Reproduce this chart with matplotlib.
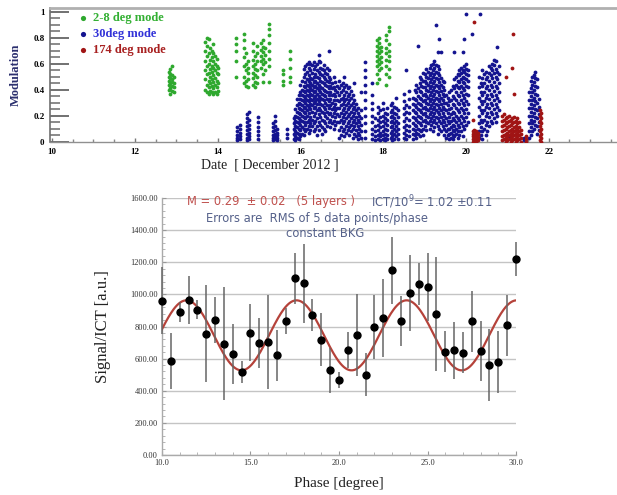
import matplotlib
matplotlib.use("Agg")
import matplotlib.pyplot as plt
import numpy as np
from matplotlib.ticker import MultipleLocator, FormatStrFormatter

# ---------------- Top panel data: modulation vs date (columns of points) ----------------
green_dates = [12.82, 12.86, 12.90, 12.94,
               13.70, 13.74, 13.78, 13.82, 13.86, 13.90, 13.94, 13.98, 14.02,
               14.45, 14.63, 14.68, 14.74, 14.85, 14.90, 14.96, 15.05, 15.10, 15.15, 15.24,
               15.58, 15.76,
               17.86, 17.90, 17.94, 18.08, 18.13]
green_mods = [[0.40, 0.44, 0.47, 0.50, 0.54],
              [0.37, 0.41, 0.45, 0.49, 0.52, 0.56],
              [0.39, 0.43, 0.46, 0.48, 0.51, 0.58],
              [0.38, 0.42, 0.45, 0.50],
              [0.40, 0.48, 0.55, 0.62, 0.70, 0.77],
              [0.38, 0.44, 0.52, 0.58, 0.66, 0.74, 0.80],
              [0.37, 0.42, 0.47, 0.53, 0.60, 0.68, 0.79],
              [0.39, 0.45, 0.50, 0.56, 0.63, 0.72],
              [0.38, 0.43, 0.48, 0.54, 0.58, 0.65, 0.70],
              [0.37, 0.41, 0.46, 0.51, 0.57, 0.62, 0.68, 0.75],
              [0.38, 0.44, 0.49, 0.55, 0.60, 0.66],
              [0.37, 0.42, 0.47, 0.53, 0.58, 0.64],
              [0.39, 0.45, 0.52, 0.57],
              [0.50, 0.62, 0.70, 0.75, 0.80],
              [0.45, 0.50, 0.58, 0.65, 0.72, 0.78, 0.83],
              [0.43, 0.47, 0.55, 0.60, 0.68],
              [0.42, 0.48, 0.53, 0.57, 0.62],
              [0.44, 0.49, 0.53, 0.58, 0.63, 0.70, 0.76],
              [0.42, 0.46, 0.51, 0.56, 0.60, 0.66],
              [0.45, 0.50, 0.55, 0.62, 0.68, 0.74],
              [0.57, 0.62, 0.66, 0.71, 0.76],
              [0.46, 0.52, 0.60, 0.64, 0.69, 0.73, 0.78],
              [0.55, 0.61, 0.67, 0.72],
              [0.46, 0.58, 0.64, 0.70, 0.76, 0.82, 0.87, 0.91],
              [0.44, 0.47, 0.52, 0.55],
              [0.46, 0.50, 0.57, 0.64, 0.70],
              [0.45, 0.52, 0.58, 0.62, 0.66, 0.70, 0.74, 0.78],
              [0.48, 0.55, 0.60, 0.64, 0.68, 0.72, 0.76, 0.80],
              [0.57, 0.61, 0.65, 0.70, 0.73],
              [0.44, 0.52, 0.58, 0.63, 0.68, 0.72, 0.78, 0.82],
              [0.50, 0.56, 0.62, 0.66, 0.70, 0.75, 0.85, 0.88]]

blue_dates = [14.48, 14.53, 14.70, 14.75, 14.98, 15.34, 15.39, 15.44, 15.68,
              15.84, 15.88, 15.92, 15.96, 16.00, 16.04, 16.08, 16.12, 16.16, 16.20,
              16.24, 16.28, 16.32, 16.36, 16.40, 16.44, 16.48, 16.52, 16.56, 16.60,
              16.64, 16.68, 16.72, 16.76, 16.80, 16.84, 16.88,
              16.94, 16.98, 17.02, 17.06, 17.10, 17.14, 17.18, 17.22, 17.26, 17.30,
              17.34, 17.38, 17.42, 17.47, 17.57, 17.74, 17.80,
              17.88, 17.93, 18.00, 18.05, 18.10, 18.18, 18.22, 18.26, 18.32, 18.36,
              18.50, 18.55, 18.62, 18.72, 18.76, 18.80, 18.84, 18.88, 18.92, 18.96,
              19.00, 19.04, 19.08, 19.12, 19.16, 19.20, 19.24, 19.28, 19.32, 19.36,
              19.40, 19.44, 19.48, 19.52, 19.56, 19.60, 19.64, 19.68, 19.72, 19.76,
              19.80, 19.84, 19.88, 19.92, 19.96, 20.00, 20.04, 20.14, 20.34,
              20.32, 20.36, 20.40, 20.44, 20.48, 20.52, 20.56, 20.60, 20.64, 20.68,
              20.72, 20.76, 20.80, 20.95, 21.05, 21.40,
              21.52, 21.56, 21.60, 21.64, 21.68, 21.72, 21.76]
blue_mods = [[0.01, 0.03, 0.05, 0.08, 0.11],
             [0.02, 0.04, 0.07, 0.10, 0.13],
             [0.01, 0.03, 0.06, 0.09, 0.12, 0.15, 0.18, 0.21],
             [0.02, 0.04, 0.07, 0.10, 0.13, 0.17, 0.23],
             [0.02, 0.05, 0.08, 0.11, 0.15, 0.19],
             [0.01, 0.03, 0.05, 0.08, 0.11, 0.14],
             [0.02, 0.04, 0.06, 0.09, 0.12, 0.16, 0.20],
             [0.01, 0.03, 0.05, 0.07, 0.10],
             [0.03, 0.06, 0.10],
             [0.02, 0.06, 0.10, 0.14, 0.18],
             [0.01, 0.04, 0.08, 0.12, 0.16, 0.20, 0.25],
             [0.03, 0.07, 0.11, 0.15, 0.19, 0.23, 0.28, 0.33],
             [0.02, 0.06, 0.10, 0.14, 0.18, 0.22, 0.26, 0.30, 0.36],
             [0.04, 0.09, 0.13, 0.17, 0.21, 0.25, 0.29, 0.33, 0.38, 0.44],
             [0.06, 0.11, 0.16, 0.20, 0.24, 0.28, 0.32, 0.36, 0.40, 0.47],
             [0.05, 0.10, 0.15, 0.19, 0.23, 0.27, 0.31, 0.35, 0.39, 0.43, 0.50, 0.56],
             [0.08, 0.13, 0.18, 0.22, 0.26, 0.30, 0.34, 0.38, 0.42, 0.46, 0.52, 0.58],
             [0.10, 0.15, 0.20, 0.24, 0.28, 0.32, 0.36, 0.40, 0.44, 0.48, 0.54, 0.60],
             [0.07, 0.12, 0.17, 0.22, 0.27, 0.31, 0.35, 0.39, 0.43, 0.47, 0.51, 0.57, 0.61],
             [0.09, 0.14, 0.19, 0.25, 0.29, 0.33, 0.37, 0.41, 0.45, 0.49, 0.55, 0.60],
             [0.12, 0.17, 0.23, 0.28, 0.32, 0.36, 0.40, 0.44, 0.48, 0.53, 0.59],
             [0.08, 0.14, 0.20, 0.26, 0.30, 0.34, 0.38, 0.42, 0.46, 0.50, 0.56, 0.61],
             [0.10, 0.16, 0.22, 0.27, 0.31, 0.35, 0.39, 0.43, 0.47, 0.52, 0.58],
             [0.05, 0.12, 0.18, 0.24, 0.29, 0.33, 0.37, 0.41, 0.45, 0.50, 0.55, 0.60],
             [0.09, 0.15, 0.21, 0.26, 0.31, 0.35, 0.40, 0.44, 0.49, 0.54, 0.62, 0.67],
             [0.13, 0.19, 0.24, 0.29, 0.34, 0.38, 0.42, 0.47, 0.52, 0.57, 0.61],
             [0.06, 0.11, 0.17, 0.23, 0.28, 0.33, 0.37, 0.41, 0.46, 0.51, 0.56],
             [0.10, 0.16, 0.22, 0.27, 0.32, 0.36, 0.40, 0.45, 0.50, 0.55, 0.59],
             [0.08, 0.14, 0.20, 0.25, 0.30, 0.35, 0.39, 0.44, 0.48, 0.53],
             [0.12, 0.18, 0.23, 0.28, 0.33, 0.38, 0.43, 0.47, 0.52, 0.57],
             [0.15, 0.21, 0.26, 0.31, 0.36, 0.41, 0.46, 0.50, 0.55, 0.70],
             [0.11, 0.17, 0.22, 0.28, 0.33, 0.38, 0.43, 0.48],
             [0.14, 0.20, 0.25, 0.30, 0.36, 0.41, 0.45],
             [0.10, 0.16, 0.22, 0.27, 0.32, 0.37, 0.42, 0.50],
             [0.13, 0.19, 0.24, 0.29, 0.35, 0.40, 0.46],
             [0.15, 0.21, 0.26, 0.32, 0.38, 0.43],
             [0.03, 0.09, 0.15, 0.20, 0.26, 0.31, 0.36, 0.41, 0.47],
             [0.05, 0.11, 0.17, 0.22, 0.28, 0.33, 0.38, 0.44],
             [0.08, 0.14, 0.19, 0.24, 0.29, 0.34, 0.40, 0.45],
             [0.04, 0.10, 0.16, 0.21, 0.26, 0.31, 0.36, 0.42, 0.50],
             [0.07, 0.12, 0.18, 0.23, 0.28, 0.33, 0.38, 0.44],
             [0.09, 0.14, 0.20, 0.25, 0.30, 0.35, 0.41],
             [0.05, 0.11, 0.16, 0.21, 0.27, 0.32, 0.37, 0.42],
             [0.08, 0.13, 0.18, 0.23, 0.28, 0.34, 0.39],
             [0.03, 0.10, 0.15, 0.20, 0.25, 0.30, 0.36],
             [0.06, 0.12, 0.17, 0.22, 0.27, 0.32, 0.45],
             [0.04, 0.09, 0.14, 0.19, 0.24, 0.29],
             [0.02, 0.07, 0.12, 0.17, 0.22, 0.26],
             [0.05, 0.10, 0.15, 0.20],
             [0.03, 0.08, 0.13, 0.18, 0.24, 0.38],
             [0.03, 0.08, 0.14, 0.20, 0.26, 0.32, 0.38, 0.44, 0.50, 0.55, 0.61],
             [0.02, 0.06, 0.10, 0.15, 0.20, 0.25, 0.30, 0.36, 0.45],
             [0.01, 0.04, 0.08, 0.12, 0.18],
             [0.02, 0.05, 0.09, 0.13, 0.17, 0.22, 0.27],
             [0.01, 0.04, 0.07, 0.11, 0.15, 0.19, 0.24],
             [0.02, 0.05, 0.08, 0.12, 0.16, 0.20, 0.25, 0.30],
             [0.01, 0.03, 0.06, 0.10, 0.14, 0.18, 0.22],
             [0.02, 0.05, 0.09, 0.13, 0.17, 0.21, 0.26],
             [0.03, 0.07, 0.11, 0.15, 0.19, 0.23, 0.28],
             [0.01, 0.04, 0.08, 0.12, 0.16, 0.20, 0.24, 0.30],
             [0.02, 0.06, 0.10, 0.14, 0.18, 0.22, 0.27],
             [0.04, 0.08, 0.12, 0.16, 0.21, 0.26, 0.34],
             [0.02, 0.06, 0.10, 0.14, 0.19, 0.24],
             [0.03, 0.07, 0.11, 0.16, 0.21, 0.26, 0.31, 0.37],
             [0.02, 0.05, 0.09, 0.13, 0.18, 0.23, 0.28, 0.55],
             [0.04, 0.08, 0.12, 0.17, 0.22, 0.27, 0.33, 0.39],
             [0.02, 0.06, 0.10, 0.14, 0.19, 0.24, 0.29, 0.34],
             [0.05, 0.09, 0.13, 0.18, 0.23, 0.28, 0.33, 0.40],
             [0.03, 0.07, 0.12, 0.17, 0.22, 0.27, 0.32, 0.38, 0.44],
             [0.06, 0.10, 0.15, 0.20, 0.25, 0.30, 0.35, 0.41, 0.74],
             [0.04, 0.09, 0.14, 0.19, 0.24, 0.29, 0.34, 0.39, 0.45, 0.50],
             [0.08, 0.13, 0.18, 0.23, 0.28, 0.33, 0.38, 0.43, 0.48],
             [0.05, 0.10, 0.16, 0.21, 0.26, 0.31, 0.36, 0.42, 0.47, 0.53],
             [0.12, 0.17, 0.22, 0.27, 0.32, 0.37, 0.42, 0.47, 0.52],
             [0.09, 0.15, 0.20, 0.25, 0.30, 0.35, 0.40, 0.45, 0.50, 0.56],
             [0.14, 0.19, 0.24, 0.29, 0.34, 0.39, 0.44, 0.49, 0.54],
             [0.10, 0.16, 0.21, 0.26, 0.31, 0.36, 0.41, 0.46, 0.51, 0.57],
             [0.13, 0.18, 0.23, 0.28, 0.33, 0.38, 0.43, 0.48, 0.53, 0.59],
             [0.08, 0.15, 0.20, 0.25, 0.30, 0.35, 0.40, 0.45, 0.50, 0.55, 0.60],
             [0.11, 0.17, 0.22, 0.27, 0.32, 0.37, 0.42, 0.47, 0.52, 0.57, 0.62],
             [0.14, 0.19, 0.24, 0.29, 0.34, 0.39, 0.44, 0.49, 0.54, 0.59, 0.90],
             [0.06, 0.12, 0.18, 0.23, 0.28, 0.33, 0.38, 0.43, 0.48, 0.53, 0.58, 0.69],
             [0.10, 0.16, 0.21, 0.26, 0.31, 0.36, 0.41, 0.46, 0.51, 0.56, 0.79],
             [0.08, 0.14, 0.19, 0.24, 0.29, 0.34, 0.39, 0.44, 0.49, 0.69],
             [0.12, 0.17, 0.22, 0.27, 0.32, 0.37, 0.42, 0.47],
             [0.05, 0.10, 0.15, 0.20, 0.25, 0.30, 0.35, 0.40, 0.46],
             [0.03, 0.08, 0.13, 0.18, 0.24, 0.30, 0.36],
             [0.05, 0.10, 0.16, 0.22, 0.28, 0.34],
             [0.02, 0.06, 0.10, 0.14, 0.19, 0.25, 0.31, 0.38],
             [0.03, 0.07, 0.11, 0.16, 0.21, 0.26, 0.32, 0.40],
             [0.02, 0.05, 0.09, 0.13, 0.18, 0.23, 0.29, 0.35, 0.43],
             [0.04, 0.08, 0.12, 0.17, 0.22, 0.28, 0.34, 0.41, 0.48, 0.69],
             [0.06, 0.10, 0.15, 0.20, 0.26, 0.32, 0.38, 0.44, 0.50],
             [0.03, 0.08, 0.13, 0.18, 0.24, 0.30, 0.36, 0.42, 0.47, 0.52],
             [0.05, 0.11, 0.17, 0.23, 0.29, 0.35, 0.41, 0.46, 0.51, 0.55],
             [0.08, 0.14, 0.20, 0.26, 0.32, 0.38, 0.43, 0.48, 0.53, 0.57],
             [0.04, 0.12, 0.18, 0.24, 0.30, 0.36, 0.41, 0.46, 0.50, 0.55, 0.69],
             [0.10, 0.16, 0.22, 0.28, 0.34, 0.40, 0.45, 0.49, 0.54, 0.58, 0.79],
             [0.13, 0.19, 0.25, 0.31, 0.37, 0.43, 0.48, 0.52, 0.56, 0.60, 0.98],
             [0.15, 0.22, 0.29, 0.36, 0.42, 0.47, 0.51, 0.55],
             [0.83],
             [0.98],
             [0.03, 0.08, 0.14, 0.20, 0.27, 0.34, 0.42, 0.50],
             [0.05, 0.11, 0.17, 0.24, 0.31, 0.38, 0.45],
             [0.02, 0.08, 0.15, 0.22, 0.29, 0.36, 0.43, 0.49, 0.55],
             [0.10, 0.17, 0.24, 0.31, 0.38, 0.45, 0.52],
             [0.05, 0.13, 0.20, 0.27, 0.34, 0.41, 0.48, 0.54],
             [0.08, 0.15, 0.22, 0.29, 0.36, 0.43, 0.50],
             [0.12, 0.19, 0.26, 0.33, 0.40, 0.47, 0.53, 0.58],
             [0.16, 0.23, 0.30, 0.37, 0.44, 0.51, 0.57],
             [0.14, 0.21, 0.28, 0.35, 0.42, 0.49, 0.55, 0.60],
             [0.18, 0.25, 0.32, 0.39, 0.46, 0.53, 0.59, 0.63],
             [0.15, 0.22, 0.29, 0.36, 0.43, 0.50, 0.56, 0.62],
             [0.20, 0.27, 0.34, 0.41, 0.48, 0.54, 0.73],
             [0.24, 0.31, 0.38, 0.45, 0.52, 0.58],
             [0.02],
             [0.04],
             [0.01, 0.03],
             [0.03, 0.08, 0.14, 0.20, 0.26, 0.32, 0.38],
             [0.05, 0.11, 0.17, 0.23, 0.29, 0.35, 0.41, 0.47],
             [0.08, 0.14, 0.20, 0.26, 0.32, 0.38, 0.44, 0.50],
             [0.10, 0.16, 0.22, 0.28, 0.34, 0.40, 0.46, 0.51],
             [0.13, 0.19, 0.25, 0.31, 0.37, 0.43, 0.49, 0.54],
             [0.06, 0.12, 0.18, 0.24, 0.30, 0.36, 0.42, 0.48],
             [0.09, 0.15, 0.21, 0.27, 0.33]]

red_dates = [20.16, 20.20, 20.24, 20.28, 20.18,
             20.88, 20.92, 20.96, 21.00, 21.04, 21.08, 21.12, 21.14, 21.16,
             21.20, 21.24, 21.28, 21.32, 21.46, 21.78, 21.82]
red_mods = [[0.00, 0.02, 0.04, 0.06, 0.08],
            [0.01, 0.03, 0.05, 0.07, 0.09, 0.92],
            [0.00, 0.02, 0.04, 0.06, 0.08],
            [0.01, 0.03, 0.05, 0.07],
            [0.17],
            [0.01, 0.04, 0.08, 0.12, 0.16, 0.20],
            [0.02, 0.05, 0.09, 0.13, 0.17, 0.21],
            [0.00, 0.03, 0.06, 0.10, 0.14, 0.18, 0.50],
            [0.01, 0.04, 0.07, 0.11, 0.15, 0.19],
            [0.02, 0.05, 0.08, 0.12, 0.16, 0.20],
            [0.00, 0.03, 0.06, 0.09, 0.13, 0.17],
            [0.01, 0.04, 0.07, 0.10, 0.14, 0.18, 0.57],
            [0.83],
            [0.02, 0.05, 0.08, 0.11, 0.15, 0.19, 0.37],
            [0.00, 0.03, 0.06, 0.09, 0.12, 0.16],
            [0.01, 0.04, 0.07, 0.10, 0.14, 0.18],
            [0.02, 0.05, 0.08, 0.11, 0.15],
            [0.00, 0.03, 0.06, 0.09],
            [0.00, 0.02, 0.04],
            [0.01, 0.04, 0.08, 0.12, 0.16, 0.20, 0.24],
            [0.00, 0.03, 0.06, 0.10, 0.14, 0.18, 0.22]]

series_labels = ["2-8 deg mode", "30deg mode", "174 deg mode"]

# ---------------- Bottom panel data: signal/ICT vs phase ----------------
phase = [10.0, 10.5, 11.0, 11.5, 12.0, 12.5, 13.0, 13.5, 14.0, 14.5,
         15.0, 15.5, 16.0, 16.5, 17.0, 17.5, 18.0, 18.5, 19.0, 19.5,
         20.0, 20.5, 21.0, 21.5, 22.0, 22.5, 23.0, 23.5, 24.0, 24.5,
         25.0, 25.5, 26.0, 26.5, 27.0, 27.5, 28.0, 28.5, 29.0, 29.5, 30.0]
signal = [961, 585, 890, 966, 904, 756, 842, 692, 630, 519,
          762, 698, 704, 620, 836, 1100, 1069, 871, 717, 529,
          467, 653, 747, 500, 799, 852, 1149, 834, 1007, 1063,
          1044, 879, 642, 651, 638, 832, 649, 560, 579, 807, 1219]
signal_err = [210, 176, 60, 150, 60, 303, 142, 352, 186, 68,
              177, 156, 293, 160, 80, 160, 245, 98, 165, 140,
              48, 110, 253, 135, 200, 243, 210, 155, 238, 130,
              212, 355, 127, 178, 126, 190, 188, 222, 192, 190, 105]
# fitted sinusoid parameters
fit_mean = 745.0
fit_amp = 218.0
fit_period = 6.22
fit_peak = 17.6

# ---------------- Figure ----------------
W, H = 617, 495
fig = plt.figure(figsize=(W / 100, H / 100), dpi=100)

serif = ["Liberation Serif", "DejaVu Serif"]

# ---- top axes ----
ax1 = fig.add_axes([50 / W, 1 - 142 / H, 1 - 50 / W, 134 / H])
colors = ["#2ea82e", "#141490", "#a01414"]
for dates, mods, col in [(green_dates, green_mods, colors[0]),
                         (blue_dates, blue_mods, colors[1]),
                         (red_dates, red_mods, colors[2])]:
    xs, ys = [], []
    for d, col_vals in zip(dates, mods):
        for v in col_vals:
            xs.append(d)
            ys.append(v)
    ax1.scatter(xs, ys, s=7.5, c=col, linewidths=0, zorder=3)

ax1.set_xlim(9.95, 23.65)
ax1.set_ylim(-0.003, 1.03)
ax1.xaxis.set_major_locator(MultipleLocator(2))
ax1.xaxis.set_minor_locator(MultipleLocator(0.5))
ax1.yaxis.set_major_locator(MultipleLocator(0.2))
ax1.yaxis.set_minor_locator(MultipleLocator(0.05))
ax1.yaxis.set_major_formatter(FormatStrFormatter("%g"))
ax1.tick_params(axis="y", which="major", direction="in", length=14, width=1.3, color="#666666", pad=4)
ax1.tick_params(axis="y", which="minor", direction="in", length=7, width=1.2, color="#777777")
ax1.tick_params(axis="x", which="major", direction="in", length=3, width=1, color="#777777", pad=4)
ax1.tick_params(axis="x", which="minor", direction="in", length=2, width=1, color="#888888")
for lab in ax1.get_xticklabels() + ax1.get_yticklabels():
    lab.set_fontfamily(serif)
    lab.set_fontweight("bold")
    lab.set_fontsize(6.5)
ax1.spines["right"].set_visible(False)
ax1.spines["top"].set_color("#b0b0b0")
ax1.spines["top"].set_linewidth(2)
ax1.spines["left"].set_color("#707070")
ax1.spines["left"].set_linewidth(1.2)
ax1.spines["bottom"].set_color("#909090")
ax1.spines["bottom"].set_linewidth(1.0)
ax1.set_ylabel("Modulation", fontfamily=serif, fontweight="bold", fontsize=9,
               color="#2b2f6e", labelpad=8)
ax1.set_xlabel("Date  [ December 2012 ]", fontfamily=serif, fontsize=10,
               color="#222222", labelpad=3)
ax1.xaxis.set_label_coords((270 - 50) / (W - 50), -0.12)

legend_colors = ["#33b033", "#3232d8", "#a82020"]
legend_ys = [0.925, 0.805, 0.685]
for lab, mcol, tcol, yy in zip(series_labels, colors, legend_colors, legend_ys):
    ax1.scatter([0.059], [yy], s=14, c=mcol, transform=ax1.transAxes, linewidths=0, zorder=4)
    ax1.text(0.076, yy, lab, transform=ax1.transAxes, color=tcol, fontfamily=serif,
             fontweight="bold", fontsize=9, va="center", ha="left")

# ---- bottom axes ----
ax2 = fig.add_axes([162 / W, 1 - 455 / H, (516 - 162) / W, (455 - 198) / H])
ax2.set_xlim(10, 30)
ax2.set_ylim(0, 1600)
ax2.yaxis.set_major_locator(MultipleLocator(200))
ax2.yaxis.set_minor_locator(MultipleLocator(40))
ax2.xaxis.set_major_locator(MultipleLocator(5))
ax2.xaxis.set_minor_locator(MultipleLocator(1))
ax2.yaxis.set_major_formatter(FormatStrFormatter("%.2f"))
ax2.xaxis.set_major_formatter(FormatStrFormatter("%.1f"))
ax2.grid(axis="y", color="#c4c4c4", linewidth=1.0, zorder=0)
ax2.set_axisbelow(True)
ax2.tick_params(axis="both", which="major", direction="in", length=3, width=0.8,
                color="#999999", labelsize=6, labelcolor="#333333", pad=3)
ax2.tick_params(axis="both", which="minor", direction="in", length=2, width=0.6, color="#aaaaaa")
for lab in ax2.get_xticklabels() + ax2.get_yticklabels():
    lab.set_fontfamily(serif)
for s in ["right", "top"]:
    ax2.spines[s].set_visible(False)
for s in ["left", "bottom"]:
    ax2.spines[s].set_color("#aaaaaa")
    ax2.spines[s].set_linewidth(1.0)

xf = np.linspace(10, 30, 400)
yf = fit_mean + fit_amp * np.cos(2 * np.pi * (xf - fit_peak) / fit_period)
ax2.plot(xf, yf, color="#b5423a", linewidth=1.6, zorder=3)
ax2.errorbar(phase, signal, yerr=signal_err, fmt="o", color="black", markersize=5,
             ecolor="#666666", elinewidth=1.1, capsize=0, zorder=4, clip_on=False)

ax2.set_ylabel("Signal/ICT [a.u.]", fontfamily=serif, fontsize=12, color="#222222", labelpad=14)
ax2.set_xlabel("Phase [degree]", fontfamily=serif, fontsize=11, color="#222222", labelpad=7)

ax2.text(0.07, 0.985, "M = 0.29  \u00b1 0.02   (5 layers )", transform=ax2.transAxes,
         color="#c0504d", fontsize=8.3, ha="left", va="center", fontfamily="DejaVu Sans")
ax2.text(0.59, 0.985, "ICT/10$^9$= 1.02 \u00b10.11", transform=ax2.transAxes,
         color="#55618a", fontsize=8.3, ha="left", va="center", fontfamily="DejaVu Sans")
ax2.text(0.125, 0.92, "Errors are  RMS of 5 data points/phase", transform=ax2.transAxes,
         color="#55618a", fontsize=8.3, ha="left", va="center", fontfamily="DejaVu Sans")
ax2.text(0.35, 0.862, "constant BKG", transform=ax2.transAxes,
         color="#55618a", fontsize=8.3, ha="left", va="center", fontfamily="DejaVu Sans")

fig.savefig("out.png", dpi=100)
